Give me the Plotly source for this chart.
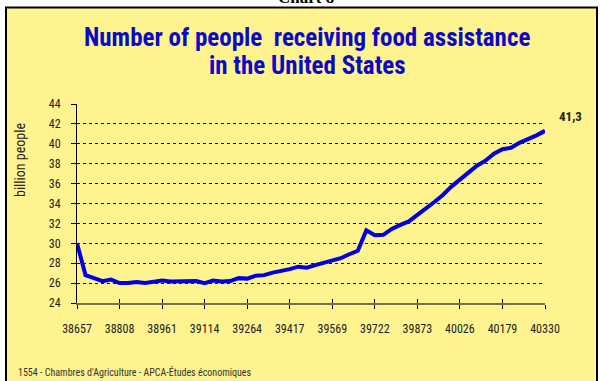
import plotly.graph_objects as go

# ---- data ----
dates = [38657, 38687, 38718, 38749, 38777, 38808, 38838, 38869, 38899, 38930,
         38961, 38991, 39022, 39052, 39083, 39114, 39142, 39173, 39203, 39234,
         39264, 39295, 39326, 39356, 39387, 39417, 39448, 39479, 39508, 39539,
         39569, 39600, 39630, 39661, 39692, 39722, 39753, 39783, 39814, 39845,
         39873, 39904, 39934, 39965, 39995, 40026, 40057, 40087, 40118, 40148,
         40179, 40210, 40238, 40269, 40299, 40330]
people = [30.0, 26.8, 26.5, 26.2, 26.35, 26.0, 26.0, 26.1, 26.0, 26.15,
          26.25, 26.15, 26.15, 26.25, 26.2, 26.0, 26.25, 26.15, 26.2, 26.5,
          26.45, 26.75, 26.8, 27.05, 27.2, 27.4, 27.65, 27.55, 27.8, 28.0,
          28.25, 28.5, 28.9, 29.25, 31.3, 30.8, 30.85, 31.45, 31.85, 32.2,
          32.85, 33.45, 34.15, 34.85, 35.7, 36.4, 37.1, 37.8, 38.3, 39.0,
          39.45, 39.6, 40.1, 40.45, 40.85, 41.3]
tick_labels = ["38657", "38808", "38961", "39114", "39264", "39417",
               "39569", "39722", "39873", "40026", "40179", "40330"]
last_label = "41,3"
title_lines = ["Number of people  receiving food assistance", "in the United States"]

cats = [str(d) for d in dates]

W, H = 600, 381
L, R, T, B = 77, 55, 104, 78
pw, ph = W - L - R, H - T - B

def px(x):
    return (x - L) / pw

def py(y):
    return (H - B - y) / ph

NARROW = "Liberation Sans Narrow, Arial Narrow, Roboto Condensed, Liberation Sans, Arial, sans-serif"
YELLOW = "#FFF38F"

fig = go.Figure()
fig.add_trace(go.Scatter(x=cats, y=people, mode="lines",
                         line=dict(color="#0000E6", width=4), showlegend=False,
                         hoverinfo="skip"))
# companion trace for the inward half of the cross tick marks
fig.add_trace(go.Scatter(x=cats, y=people, mode="lines", xaxis="x2",
                         line=dict(color="rgba(0,0,0,0)", width=0), showlegend=False,
                         hoverinfo="skip"))

fig.update_layout(
    width=W, height=H,
    margin=dict(l=L, r=R, t=T, b=B),
    paper_bgcolor="white",
    plot_bgcolor="rgba(0,0,0,0)",
    font=dict(family=NARROW, color="#222222"),
    xaxis=dict(type="category", range=[0, len(cats) - 1],
               tickvals=cats[::5], ticktext=tick_labels,
               showgrid=False, zeroline=False,
               showline=True, linecolor="#77744C", linewidth=2,
               ticks="outside", ticklen=4, tickcolor="black", tickwidth=1,
               tickfont=dict(size=12, family=NARROW, color="#222222"),
               ticklabelstandoff=10),
    xaxis2=dict(type="category", overlaying="x", matches="x", side="bottom",
                tickvals=cats[::5], showticklabels=False,
                showgrid=False, zeroline=False, showline=False,
                ticks="inside", ticklen=4, tickcolor="black", tickwidth=1),
    yaxis=dict(range=[24, 44], dtick=2, tick0=24,
               showgrid=True, gridcolor="#111111", gridwidth=1, griddash="dot",
               zeroline=False, showline=True, linecolor="black", linewidth=1,
               ticks="outside", ticklen=5, tickcolor="black",
               tickfont=dict(size=12, family=NARROW, color="#222222"),
               ticklabelstandoff=8),
    shapes=[dict(type="rect", xref="paper", yref="paper",
                 x0=px(6), x1=px(597), y0=py(390), y1=py(7.5),
                 fillcolor=YELLOW, line=dict(color="black", width=2),
                 layer="below")],
    annotations=[
        dict(text="<b>" + title_lines[0] + "</b>",
             xref="paper", yref="paper", x=px(307), y=py(38), showarrow=False,
             xanchor="center", yanchor="middle",
             font=dict(size=25, color="#0A0AC8", family=NARROW)),
        dict(text="<b>" + title_lines[1] + "</b>",
             xref="paper", yref="paper", x=px(307), y=py(65.5), showarrow=False,
             xanchor="center", yanchor="middle",
             font=dict(size=25, color="#0A0AC8", family=NARROW)),
        dict(text="<b>Chart 8</b>", xref="paper", yref="paper",
             x=px(306), y=py(9), xanchor="center", yanchor="bottom", showarrow=False,
             font=dict(size=17, color="black", family="Liberation Serif, Times New Roman, serif")),
        dict(text="billion people", xref="paper", yref="paper", x=px(20), y=py(160),
             textangle=-90, showarrow=False, xanchor="center", yanchor="middle",
             font=dict(size=14, color="#222222", family=NARROW)),
        dict(text="<b>" + last_label + "</b>", xref="paper", yref="paper",
             x=px(570), y=py(116), showarrow=False, xanchor="center", yanchor="middle",
             font=dict(size=13, color="#222222", family=NARROW)),
        dict(text="1554 - Chambres d'Agriculture - APCA-Études économiques",
             xref="paper", yref="paper", x=px(16), y=py(372), showarrow=False,
             xanchor="left", yanchor="middle",
             font=dict(size=10, color="#333333", family=NARROW)),
    ],
)

fig.write_html("out.html")
